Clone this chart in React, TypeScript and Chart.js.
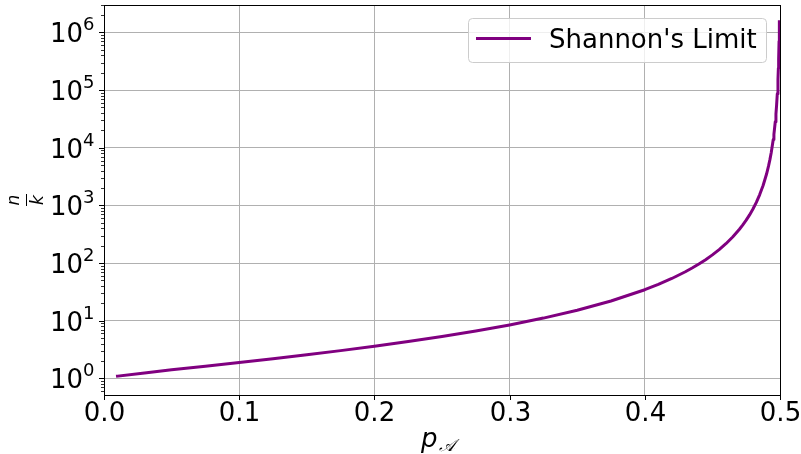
import React, { useEffect, useRef } from "react";
import { Chart, registerables } from "chart.js";

Chart.register(...registerables);

// Data
const pValues: number[] = [
  0.01, 0.03, 0.05, 0.075, 0.1, 0.125, 0.15, 0.175, 0.2, 0.225, 0.25, 0.275,
  0.3, 0.325, 0.35, 0.375, 0.4, 0.41, 0.42, 0.43, 0.435, 0.44, 0.445, 0.45,
  0.455, 0.46, 0.465, 0.47, 0.4725, 0.475, 0.4775, 0.48, 0.4825, 0.485,
  0.4875, 0.49, 0.4915, 0.4925, 0.4935, 0.495, 0.4955, 0.4965, 0.497, 0.4975,
  0.498, 0.4985, 0.4988, 0.499, 0.4993, 0.49953,
];
const nkValues: number[] = [
  1.088, 1.241, 1.401, 1.624, 1.883, 2.191, 2.563, 3.021, 3.596, 4.333, 5.299,
  6.597, 8.425, 11.08, 15.17, 21.95, 34.43, 42.56, 53.93, 70.51, 81.8, 96.0,
  114.3, 138.4, 170.9, 216.4, 282.7, 384.9, 458.0, 554.6, 684.4, 866.4, 1131,
  1540, 2218, 3466, 4797, 6162, 8203, 13865, 17115, 28296, 38510, 55460, 86647,
  154060, 240670, 346600, 707400, 1540000,
];
const xTicks: number[] = [0, 0.1, 0.2, 0.3, 0.4, 0.5];
const xTickLabels: string[] = ["0.0", "0.1", "0.2", "0.3", "0.4", "0.5"];
const yDecades: number[] = [0, 1, 2, 3, 4, 5, 6];
const seriesLabel = "Shannon's Limit";

const X_MIN = 0;
const X_MAX = 0.5;
const Y_MIN = 0.513;
const Y_MAX = 3.0e6;

const FONT = "'DejaVu Sans', sans-serif";
const LINE_COLOR = "#800080";

export default function App() {
  const ref = useRef<HTMLCanvasElement | null>(null);

  useEffect(() => {
    document.body.style.margin = "0";
    const canvas = ref.current;
    if (!canvas) return;

    const mplPlugin = {
      id: "mplDecor",
      afterDraw(chart: any) {
        const ctx: CanvasRenderingContext2D = chart.ctx;
        const { left, right, top, bottom } = chart.chartArea;
        const xs = chart.scales.x;
        const ys = chart.scales.y;
        ctx.save();

        // frame (spines)
        ctx.strokeStyle = "#000";
        ctx.lineWidth = 1;
        ctx.strokeRect(left + 0.5, top + 0.5, right - left, bottom - top);

        // major y ticks + labels
        ctx.fillStyle = "#000";
        ctx.textBaseline = "alphabetic";
        for (const d of yDecades) {
          const y = Math.round(ys.getPixelForValue(Math.pow(10, d))) + 0.5;
          ctx.beginPath();
          ctx.moveTo(left - 5, y);
          ctx.lineTo(left, y);
          ctx.lineWidth = 1;
          ctx.stroke();
          const exp = String(d);
          ctx.font = `18px ${FONT}`;
          const ew = ctx.measureText(exp).width;
          ctx.textAlign = "left";
          ctx.fillText(exp, 94.5 - ew, y - 2.5);
          ctx.font = `26px ${FONT}`;
          const bw = ctx.measureText("10").width;
          ctx.fillText("10", 94.5 - ew - bw, y + 9);
        }
        // minor y ticks
        ctx.lineWidth = 0.8;
        for (let d = -1; d <= 6; d++) {
          for (let m = 2; m <= 9; m++) {
            const v = m * Math.pow(10, d);
            if (v < Y_MIN || v > Y_MAX) continue;
            const y = Math.round(ys.getPixelForValue(v)) + 0.5;
            ctx.beginPath();
            ctx.moveTo(left - 3, y);
            ctx.lineTo(left, y);
            ctx.stroke();
          }
        }

        // x ticks + labels
        ctx.lineWidth = 1;
        ctx.font = `26px ${FONT}`;
        ctx.textAlign = "center";
        xTicks.forEach((v, i) => {
          const x = Math.round(xs.getPixelForValue(v)) + 0.5;
          ctx.beginPath();
          ctx.moveTo(x, bottom);
          ctx.lineTo(x, bottom + 5);
          ctx.stroke();
          ctx.fillText(xTickLabels[i], x, 421);
        });

        // x axis label: p_A
        ctx.textAlign = "left";
        ctx.font = `italic 26px ${FONT}`;
        ctx.fillText("p", 421, 447);
        ctx.font = `italic 17px ${FONT}`;
        ctx.fillText("\u{1D49C}", 439, 451);

        // y axis label: n / k (rotated fraction)
        ctx.save();
        ctx.translate(0, (top + bottom) / 2);
        ctx.rotate(-Math.PI / 2);
        ctx.textAlign = "center";
        ctx.font = `italic 17px ${FONT}`;
        ctx.fillText("n", 0, 18.5);
        ctx.fillText("k", 0, 43);
        ctx.beginPath();
        ctx.moveTo(-6, 26.5);
        ctx.lineTo(6, 26.5);
        ctx.lineWidth = 1;
        ctx.stroke();
        ctx.restore();

        // legend
        const lx = 468.5, ly = 18.5, lw = 298, lh = 44;
        ctx.beginPath();
        ctx.roundRect(lx, ly, lw, lh, 4);
        ctx.fillStyle = "rgba(255,255,255,0.8)";
        ctx.fill();
        ctx.strokeStyle = "#cccccc";
        ctx.lineWidth = 1;
        ctx.stroke();
        ctx.beginPath();
        ctx.moveTo(476, 38.5);
        ctx.lineTo(531, 38.5);
        ctx.strokeStyle = LINE_COLOR;
        ctx.lineWidth = 3;
        ctx.stroke();
        ctx.fillStyle = "#000";
        ctx.font = `26px ${FONT}`;
        ctx.textAlign = "left";
        ctx.fillText(seriesLabel, 549, 48);

        ctx.restore();
      },
    };

    const chart = new Chart(canvas, {
      type: "line",
      data: {
        datasets: [
          {
            label: seriesLabel,
            data: pValues.map((p, i) => ({ x: p, y: nkValues[i] })),
            borderColor: LINE_COLOR,
            borderWidth: 3,
            pointRadius: 0,
            tension: 0,
            fill: false,
            borderCapStyle: "square",
            borderJoinStyle: "round",
          },
        ],
      },
      options: {
        responsive: false,
        animation: false,
        devicePixelRatio: 1,
        layout: { padding: { top: 5, right: 21, left: 0, bottom: 0 } },
        plugins: { legend: { display: false }, tooltip: { enabled: false } },
        scales: {
          x: {
            type: "linear",
            min: X_MIN,
            max: X_MAX,
            afterBuildTicks: (s: any) => {
              s.ticks = xTicks.map((v) => ({ value: v }));
            },
            afterFit: (s: any) => {
              s.height = 59;
            },
            ticks: { display: false },
            grid: { color: "#b0b0b0", lineWidth: 1, drawTicks: false },
            border: { display: false },
          },
          y: {
            type: "logarithmic",
            min: Y_MIN,
            max: Y_MAX,
            afterBuildTicks: (s: any) => {
              s.ticks = yDecades.map((d) => ({ value: Math.pow(10, d) }));
            },
            afterFit: (s: any) => {
              s.width = 104;
            },
            ticks: { display: false },
            grid: { color: "#b0b0b0", lineWidth: 1, drawTicks: false },
            border: { display: false },
          },
        },
      } as any,
      plugins: [mplPlugin],
    });

    return () => chart.destroy();
  }, []);

  return (
    <div style={{ width: 801, height: 454 }}>
      <canvas ref={ref} width={801} height={454} style={{ display: "block" }} />
    </div>
  );
}
